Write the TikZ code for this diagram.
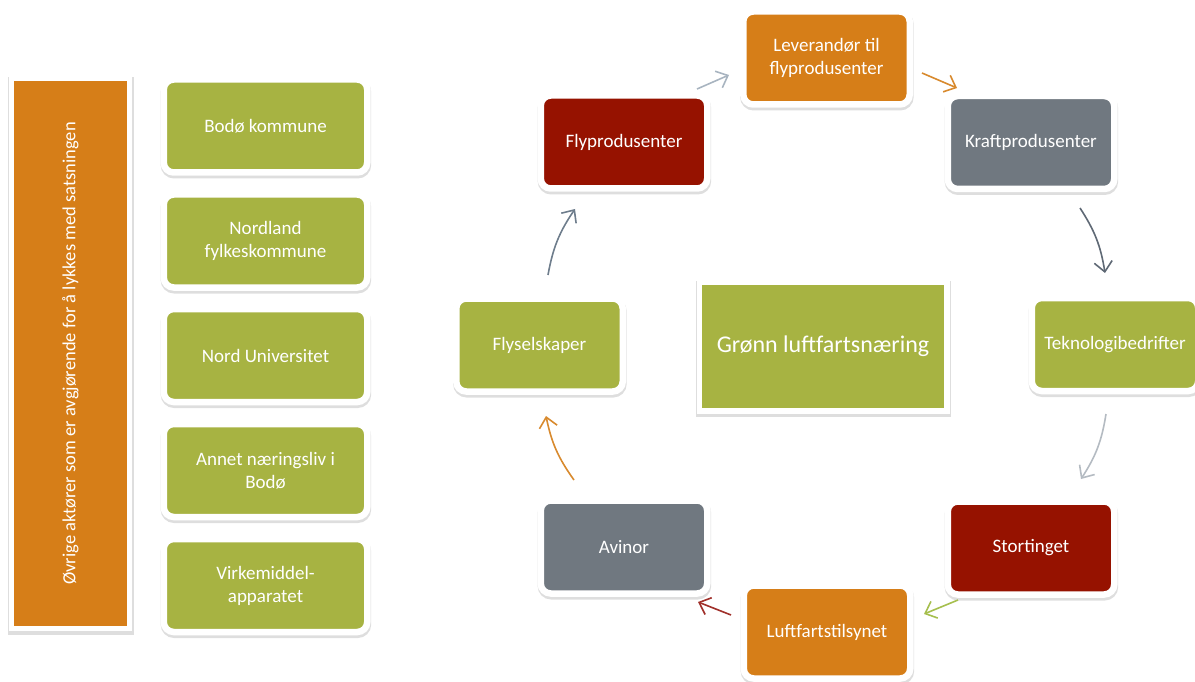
\documentclass[tikz,border=0pt]{standalone}
\usepackage{fontspec}
\setmainfont{Carlito}
\usetikzlibrary{shadows,arrows.meta}
\definecolor{cgreen}{RGB}{167,179,66}
\definecolor{corange}{RGB}{214,126,24}
\definecolor{cred}{RGB}{150,18,0}
\definecolor{cgrey}{RGB}{112,120,128}
\definecolor{aslate}{RGB}{110,125,140}
\definecolor{alight}{RGB}{168,180,192}
\definecolor{aorange}{RGB}{216,138,46}
\definecolor{adark}{RGB}{95,105,117}
\definecolor{alightgrey}{RGB}{180,187,194}
\definecolor{agreen}{RGB}{166,191,78}
\definecolor{ared}{RGB}{160,48,42}
\tikzset{
  shad/.style={drop shadow={shadow xshift=0.4pt,shadow yshift=-2.5pt,opacity=0.13,fill=black,draw=black,line width=7pt}},
  cbox/.style={shad,rounded corners=10pt,draw=white,line width=6.5pt,minimum width=166.5pt,minimum height=93pt,inner sep=0pt,text=white,align=center,font=\fontsize{19}{23}\selectfont},
  lbox/.style={cbox,minimum width=203.5pt,fill=cgreen},
  conn/.style={line width=1.6pt,-{Straight Barb[length=10pt,width=18pt,line width=1.6pt]},bend left=12},
}
\begin{document}
\begin{tikzpicture}[x=1pt,y=-1pt]
\useasboundingbox (0,0) rectangle (1195,682);
% left bar
\node[shad,draw=white,line width=5pt,fill=corange,minimum width=118.5pt,minimum height=550pt,inner sep=0pt] (bar) at (70.5,353.5) {};
\node[rotate=90,text=white,font=\fontsize{18.5}{23}\selectfont] (bartext) at (bar.center) {Øvrige aktører som er avgjørende for å lykkes med satsningen};
% left boxes
\node[lbox] (b1) at (265.5,126) {Bodø kommune};
\node[lbox] (b2) at (265.5,241) {Nordland\\fylkeskommune};
\node[lbox] (b3) at (265.5,355.5) {Nord Universitet};
\node[lbox] (b4) at (265.5,470.5) {Annet næringsliv i\\Bodø};
\node[lbox] (b5) at (265.5,585.5) {Virkemiddel-\\apparatet};
% center
\node[shad,draw=white,line width=5.5pt,fill=cgreen,minimum width=247.5pt,minimum height=128.5pt,inner sep=0pt,text=white,font=\fontsize{24}{28}\selectfont] (center) at (823,346.5) {Grønn luftfartsnæring};
% cycle
\node[cbox,fill=cred] (fp) at (624,142) {Flyprodusenter};
\node[cbox,fill=corange] (lev) at (826.5,58) {Leverandør til\\flyprodusenter};
\node[cbox,fill=cgrey] (kp) at (1031,142.5) {Kraftprodusenter};
\node[cbox,fill=cgreen] (tek) at (1115,344.5) {Teknologibedrifter};
\node[cbox,fill=cred] (st) at (1031,548) {Stortinget};
\node[cbox,fill=corange] (lt) at (827,632) {Luftfartstilsynet};
\node[cbox,fill=cgrey] (av) at (624,547) {Avinor};
\node[cbox,fill=cgreen] (fs) at (539.5,345) {Flyselskaper};
% arrow ends
\coordinate (a1s) at (548,275); \coordinate (a1e) at (575,209);
\coordinate (a2s) at (697,89);  \coordinate (a2e) at (729,75);
\coordinate (a3s) at (922,73);  \coordinate (a3e) at (957,88);
\coordinate (a4s) at (1080,208); \coordinate (a4e) at (1105,273);
\coordinate (a5s) at (1106,414); \coordinate (a5e) at (1081,479);
\coordinate (a6s) at (958,600); \coordinate (a6e) at (924,614);
\coordinate (a7s) at (731,615); \coordinate (a7e) at (698,602);
\coordinate (a8s) at (574,480); \coordinate (a8e) at (546,416);
\draw[conn,draw=aslate] (a1s) to (a1e);
\draw[conn,draw=alight,bend left=0] (a2s) to (a2e);
\draw[conn,draw=aorange,bend left=0] (a3s) to (a3e);
\draw[conn,draw=adark] (a4s) to (a4e);
\draw[conn,draw=alightgrey] (a5s) to (a5e);
\draw[conn,draw=agreen,bend left=0] (a6s) to (a6e);
\draw[conn,draw=ared,bend left=0] (a7s) to (a7e);
\draw[conn,draw=aorange] (a8s) to (a8e);
\end{tikzpicture}
\end{document}
